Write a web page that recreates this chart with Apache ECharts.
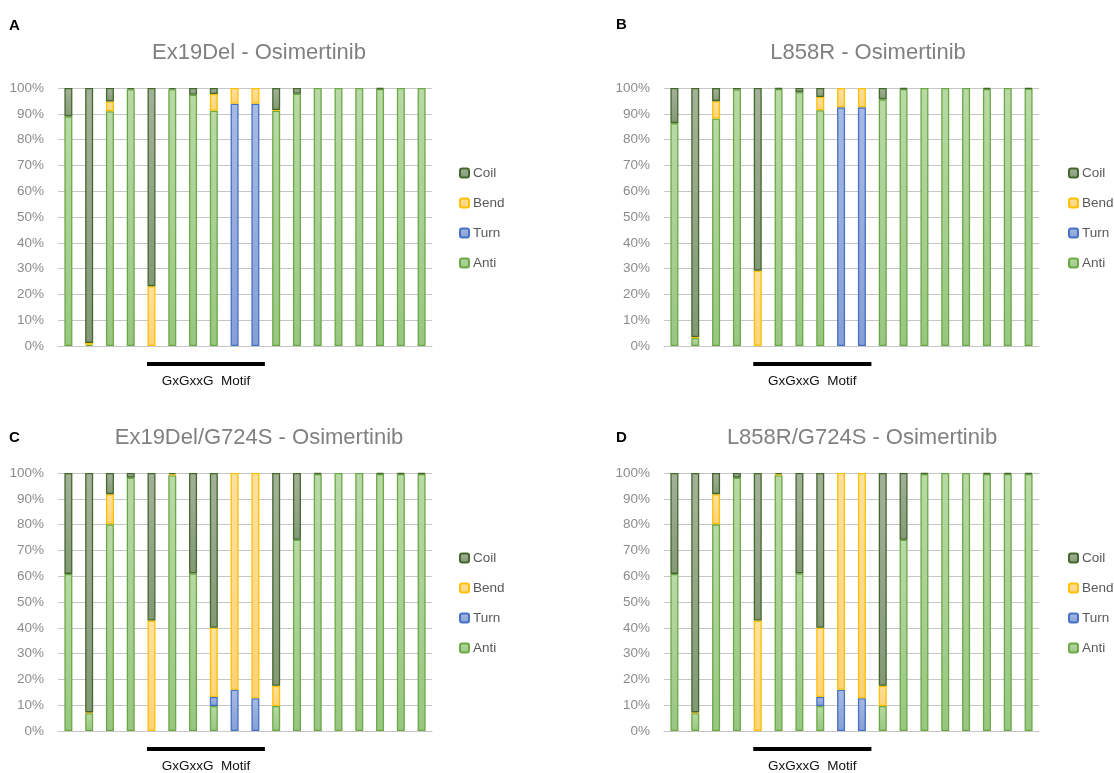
<!DOCTYPE html>
<html>
<head>
<meta charset="utf-8">
<title>Secondary structure - Osimertinib</title>
<script src="https://cdn.jsdelivr.net/npm/echarts@6/dist/echarts.min.js"></script>
<style>
  html, body { margin: 0; padding: 0; background: #fff; }
  #chart { width: 1114px; height: 773px; }
</style>
</head>
<body>
<div id="chart"></div>
<script>
// residue positions (no labels shown on the x axis)
var positions = ['1', '2', '3', '4', '5', '6', '7', '8', '9', '10', '11', '12', '13', '14', '15', '16', '17', '18']
var yTicks = [0, 10, 20, 30, 40, 50, 60, 70, 80, 90, 100]

// A: Ex19Del - Osimertinib (%)
var antiA = [89.0, 0.5, 91.0, 99.5, 0, 99.5, 97.4, 91.2, 0, 0, 91.2, 97.8, 100, 100, 100, 99.6, 100, 100]
var turnA = [0, 0, 0, 0, 0, 0, 0, 0, 93.9, 93.9, 0, 0, 0, 0, 0, 0, 0, 0]
var bendA = [0, 0.7, 3.8, 0, 23.2, 0, 0, 6.5, 6.1, 6.1, 0.3, 0, 0, 0, 0, 0, 0, 0]
var coilA = [11.0, 98.8, 5.2, 0.5, 76.8, 0.5, 2.6, 2.3, 0, 0, 8.5, 2.2, 0, 0, 0, 0.4, 0, 0]

// B: L858R - Osimertinib
var antiB = [86.4, 3.1, 88.2, 99.4, 0, 99.6, 98.4, 91.4, 0, 0, 95.6, 99.6, 100, 100, 100, 99.6, 100, 99.7]
var turnB = [0, 0, 0, 0, 0, 0, 0, 0, 92.5, 92.5, 0, 0, 0, 0, 0, 0, 0, 0]
var bendB = [0, 0.4, 6.7, 0, 29.2, 0, 0, 5.1, 7.5, 7.5, 0, 0, 0, 0, 0, 0, 0, 0]
var coilB = [13.6, 96.5, 5.1, 0.6, 70.8, 0.4, 1.6, 3.5, 0, 0, 4.4, 0.4, 0, 0, 0, 0.4, 0, 0.3]

// C: Ex19Del/G724S - Osimertinib
var antiC = [60.9, 6.9, 80.1, 98.2, 0, 99.1, 61.1, 9.7, 0, 0, 9.7, 74.1, 99.6, 100, 100, 99.6, 99.6, 99.6]
var turnC = [0, 0, 0, 0, 0, 0, 0, 3.5, 16.0, 12.7, 0, 0, 0, 0, 0, 0, 0, 0]
var bendC = [0, 0.3, 11.7, 0, 42.8, 0.4, 0, 26.8, 84.0, 87.3, 7.8, 0, 0, 0, 0, 0, 0, 0]
var coilC = [39.1, 92.8, 8.2, 1.8, 57.2, 0.5, 38.9, 60.0, 0, 0, 82.5, 25.9, 0.4, 0, 0, 0.4, 0.4, 0.4]

// D: L858R/G724S - Osimertinib
var antiD = [60.9, 6.9, 80.1, 98.2, 0, 99.1, 61.1, 9.7, 0, 0, 9.7, 74.1, 99.6, 100, 100, 99.6, 99.6, 99.6]
var turnD = [0, 0, 0, 0, 0, 0, 0, 3.5, 16.0, 12.7, 0, 0, 0, 0, 0, 0, 0, 0]
var bendD = [0, 0.3, 11.7, 0, 42.8, 0.4, 0, 26.8, 84.0, 87.3, 7.8, 0, 0, 0, 0, 0, 0, 0]
var coilD = [39.1, 92.8, 8.2, 1.8, 57.2, 0.5, 38.9, 60.0, 0, 0, 82.5, 25.9, 0.4, 0, 0, 0.4, 0.4, 0.4]

var panelTitles = ['Ex19Del - Osimertinib', 'L858R - Osimertinib', 'Ex19Del/G724S - Osimertinib', 'L858R/G724S - Osimertinib']
var panelLetters = ['A', 'B', 'C', 'D']
var motifLabel = 'GxGxxG  Motif'
var motifFrom = 4 // first residue index under the motif bar
var motifTo = 9   // last residue index

var font = "'Liberation Sans', Arial, sans-serif"

// panel layout (px)
var grids = [
  { left: 58, top: 88, width: 374, height: 258 },
  { left: 664, top: 88, width: 375, height: 258 },
  { left: 58, top: 473, width: 374, height: 258 },
  { left: 664, top: 473, width: 375, height: 258 }
]
var titlePos = [[259, 42], [868, 42], [259, 427], [862, 427]]
var letterPos = [[9, 18], [616, 17], [9, 430], [616, 430]]
var legendPos = [[459, 166], [1068, 166], [459, 551], [1068, 551]]

function grad(top, bottom) {
  return new echarts.graphic.LinearGradient(0, 0, 0, 1, [
    { offset: 0, color: top },
    { offset: 1, color: bottom }
  ])
}

var styles = {
  Anti: { color: grad('#b9d9a6', '#98c682'), borderColor: '#6aa943' },
  Turn: { color: grad('#a8b9e2', '#879fd6'), borderColor: '#4472c4' },
  Bend: { color: grad('#ffe0a0', '#ffd27a'), borderColor: '#ffc000' },
  Coil: { color: grad('#a4b19a', '#849877'), borderColor: '#43682b' }
}

function clean(arr) {
  // zero-height segments are left out so no stray border lines are drawn
  return arr.map(function(v) { return v === 0 ? '-' : v })
}

function panelSeries(idx, anti, turn, bend, coil) {
  var parts = [['Anti', anti], ['Turn', turn], ['Bend', bend], ['Coil', coil]]
  return parts.map(function(p) {
    return {
      name: p[0],
      type: 'bar',
      stack: 'panel' + idx,
      xAxisIndex: idx,
      yAxisIndex: idx,
      barWidth: 8,
      itemStyle: {
        color: styles[p[0]].color,
        borderColor: styles[p[0]].borderColor,
        borderWidth: 1.3
      },
      data: clean(p[1])
    }
  })
}

var chart = echarts.init(document.getElementById('chart'))

var titles = []
panelTitles.forEach(function(t, i) {
  titles.push({
    text: t,
    left: titlePos[i][0],
    top: titlePos[i][1],
    textAlign: 'center',
    padding: 0,
    textStyle: { fontFamily: font, fontSize: 22, fontWeight: 'normal', color: '#808080' }
  })
  titles.push({
    text: panelLetters[i],
    left: letterPos[i][0],
    top: letterPos[i][1],
    padding: 0,
    textStyle: { fontFamily: font, fontSize: 15, fontWeight: 'bold', color: '#000' }
  })
})

var option = {
  animation: false,
  backgroundColor: '#fff',
  title: titles,
  legend: legendPos.map(function(p) {
    return {
      orient: 'vertical',
      left: p[0],
      top: p[1],
      padding: 0,
      data: ['Coil', 'Bend', 'Turn', 'Anti'],
      itemWidth: 9,
      itemHeight: 9,
      itemGap: 16,
      selectedMode: false,
      textStyle: { fontFamily: font, fontSize: 13.5, color: '#595959', padding: [0, 0, 0, -1] }
    }
  }),
  grid: grids,
  xAxis: grids.map(function(g, i) {
    return {
      type: 'category',
      gridIndex: i,
      data: positions,
      axisLabel: { show: false },
      axisTick: { show: false },
      axisLine: { lineStyle: { color: '#c6c6c6', width: 1 } }
    }
  }),
  yAxis: grids.map(function(g, i) {
    return {
      type: 'value',
      gridIndex: i,
      min: yTicks[0],
      max: yTicks[yTicks.length - 1],
      interval: 10,
      axisLabel: { formatter: '{value}%', color: '#8c8c8c', fontFamily: font, fontSize: 13.5, margin: 14 },
      axisLine: { show: false },
      axisTick: { show: false },
      splitLine: { lineStyle: { color: '#c6c6c6', width: 1 } }
    }
  }),
  series: [].concat(
    panelSeries(0, antiA, turnA, bendA, coilA),
    panelSeries(1, antiB, turnB, bendB, coilB),
    panelSeries(2, antiC, turnC, bendC, coilC),
    panelSeries(3, antiD, turnD, bendD, coilD)
  )
}

chart.setOption(option)

// motif bar + label under each panel, placed from the category scale
var extras = []
grids.forEach(function(g, i) {
  var finder = { xAxisIndex: i, yAxisIndex: i }
  var a = chart.convertToPixel(finder, [motifFrom, 0])
  var b = chart.convertToPixel(finder, [motifTo, 0])
  var x1 = a[0] - 4.5
  var x2 = b[0] + 9.5
  var y = a[1] + 18
  extras.push({
    type: 'line',
    shape: { x1: x1, y1: y, x2: x2, y2: y },
    style: { stroke: '#000', lineWidth: 3.8 }
  })
  extras.push({
    type: 'text',
    x: (x1 + x2) / 2,
    y: y + 17,
    style: {
      text: motifLabel,
      fill: '#111',
      font: '13.5px ' + font,
      textAlign: 'center',
      textVerticalAlign: 'middle'
    }
  })
})
chart.setOption({ graphic: extras })
</script>
</body>
</html>
